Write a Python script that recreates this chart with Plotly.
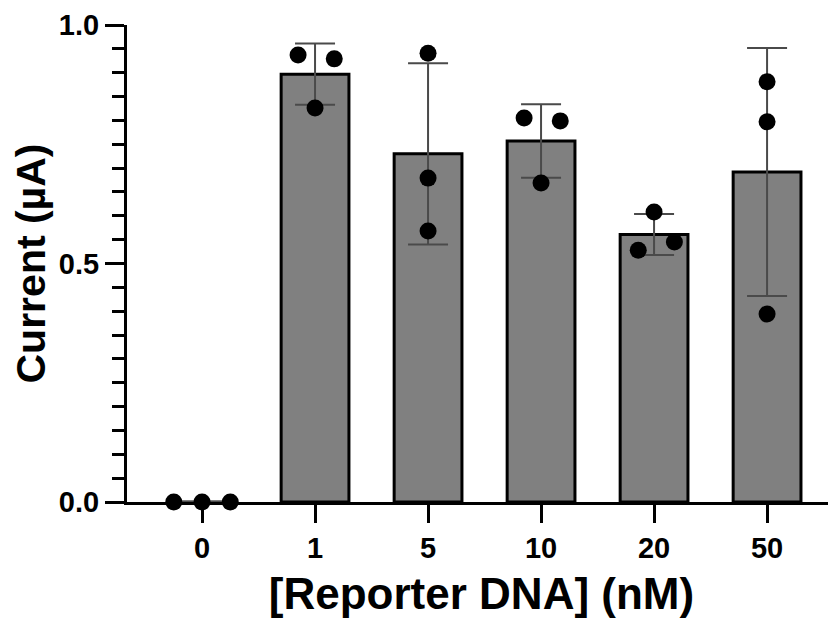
import plotly.graph_objects as go

# ---- data ----
categories = ["0", "1", "5", "10", "20", "50"]
bar_means = [0.0, 0.897, 0.730, 0.757, 0.561, 0.692]
bar_sd = [0.0, 0.064, 0.190, 0.077, 0.043, 0.260]

reps_0 = [0.0, 0.0, 0.0]
reps_1 = [0.937, 0.826, 0.929]
reps_5 = [0.941, 0.679, 0.568]
reps_10 = [0.805, 0.669, 0.799]
reps_20 = [0.528, 0.608, 0.545]
reps_50 = [0.881, 0.797, 0.394]
replicates = [reps_0, reps_1, reps_5, reps_10, reps_20, reps_50]

# horizontal scatter spread of dots (style, in category units)
JITTER = [
    [-0.25, 0.0, 0.25],
    [-0.15, 0.0, 0.17],
    [0.0, 0.0, 0.0],
    [-0.15, 0.0, 0.17],
    [-0.14, 0.0, 0.18],
    [0.0, 0.0, 0.0],
]

FONT = "Liberation Sans, Arial, sans-serif"

fig = go.Figure()

xpos = list(range(len(categories)))
fig.add_trace(go.Bar(
    x=xpos, y=bar_means, width=0.6,
    marker=dict(color="#808080", line=dict(color="black", width=3)),
    error_y=dict(type="data", array=bar_sd, visible=True,
                 color="#4a4a4a", thickness=2, width=20),
    showlegend=False,
))

px_, py_ = [], []
for i, reps in enumerate(replicates):
    for j, v in enumerate(reps):
        px_.append(i + JITTER[i][j])
        py_.append(v)

fig.add_trace(go.Scatter(
    x=px_, y=py_, mode="markers",
    marker=dict(color="black", size=17),
    cliponaxis=False, showlegend=False,
))

# page body adds an 8px offset; figure sized/positioned to compensate
fig.update_layout(
    width=828, height=614,
    margin=dict(l=119, r=0, t=17, b=120),
    paper_bgcolor="white", plot_bgcolor="white",
    font=dict(family=FONT, color="black"),
)

fig.update_xaxes(
    range=[-0.664, 5.61],
    automargin=False,
    tickmode="array", tickvals=xpos, ticktext=categories,
    ticks="outside", ticklen=18, tickwidth=3, tickcolor="black",
    showline=True, linecolor="black", linewidth=3,
    showgrid=False, zeroline=False,
    tickfont=dict(family=FONT, size=29, weight="bold"),
    title=dict(text="[Reporter DNA] (nM)", standoff=16,
               font=dict(family=FONT, size=44, weight="bold")),
)

fig.update_yaxes(
    range=[0, 1.0],
    automargin=False,
    tickmode="array", tickvals=[0, 0.5, 1.0], ticktext=["0.0", "0.5", "1.0"],
    ticks="outside", ticklen=19, tickwidth=3, tickcolor="black",
    minor=dict(dtick=0.05, ticks="outside", ticklen=12, tickwidth=3,
               tickcolor="black", showgrid=False),
    showline=True, linecolor="black", linewidth=3,
    showgrid=False, zeroline=False,
    tickfont=dict(family=FONT, size=29, weight="bold"),
    title=dict(text="Current (µA)", standoff=2,
               font=dict(family=FONT, size=41, weight="bold")),
)

fig.write_html("out.html")
